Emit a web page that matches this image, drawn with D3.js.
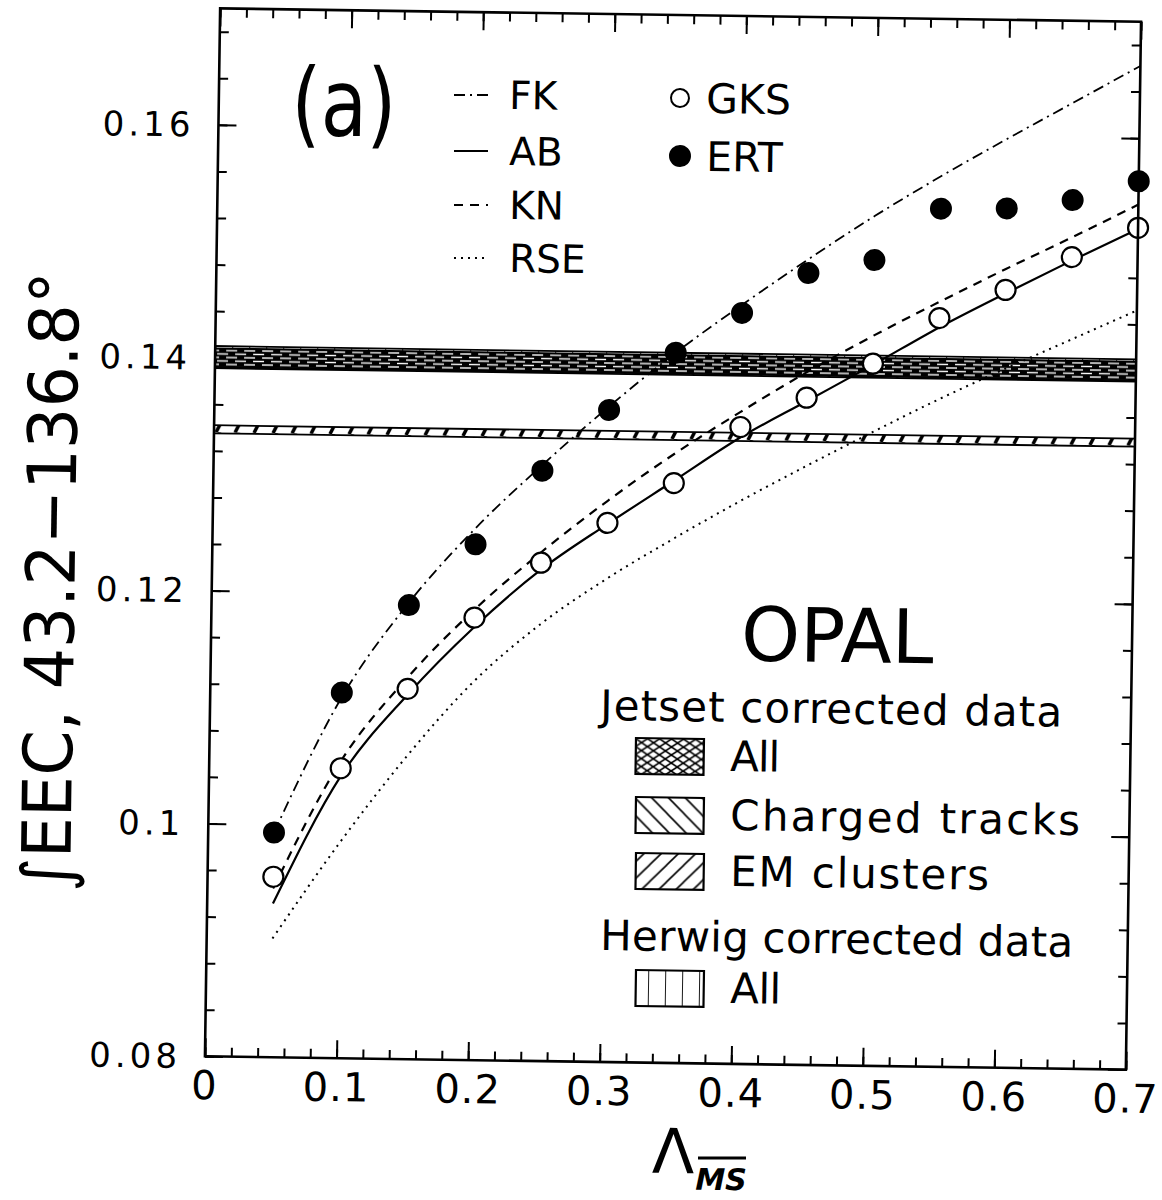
<!DOCTYPE html>
<html>
<head>
<meta charset="utf-8">
<script src="https://cdn.jsdelivr.net/npm/d3@7"></script>
<style>
  body { margin: 0; background: #fff; }
  text { font-family: "DejaVu Sans", sans-serif; fill: #000; }
</style>
</head>
<body>
<svg id="chart" width="1162" height="1200"></svg>
<script>
// Lambda values of the GKS / ERT points
var lambdaPts = [0.05, 0.10, 0.15, 0.20, 0.25, 0.30, 0.35, 0.40, 0.45, 0.50, 0.55, 0.60, 0.65, 0.70];
var ertVals = [0.0993, 0.1114, 0.1190, 0.1243, 0.1307, 0.1360, 0.1410, 0.1445, 0.1480, 0.1492, 0.1537, 0.1538, 0.1546, 0.1563];
var gksVals = [0.0955, 0.1049, 0.1118, 0.1180, 0.1228, 0.1263, 0.1298, 0.1347, 0.1373, 0.1403, 0.1443, 0.1468, 0.1497, 0.1523];

// theory curves, sampled at the same lambda values
var curveNames = ["FK", "AB", "KN", "RSE"];
var fkVals  = [0.0993, 0.1110, 0.1192, 0.1257, 0.1312, 0.1363, 0.1410, 0.1452, 0.1492, 0.1530, 0.1565, 0.1598, 0.1630, 0.1662];
var abVals  = [0.0932, 0.1042, 0.1113, 0.1172, 0.1222, 0.1262, 0.1300, 0.1338, 0.1370, 0.1402, 0.1435, 0.1465, 0.1494, 0.1522];
var knVals  = [0.0945, 0.1055, 0.1128, 0.1187, 0.1237, 0.1282, 0.1323, 0.1360, 0.1395, 0.1427, 0.1457, 0.1486, 0.1514, 0.1543];
var rseVals = [0.0902, 0.0985, 0.1060, 0.1125, 0.1175, 0.1215, 0.1250, 0.1283, 0.1314, 0.1344, 0.1373, 0.1400, 0.1426, 0.1452];

// corrected data bands (low / high edge)
var bandNames = ["Jetset All", "Charged tracks", "EM clusters", "Herwig All"];
var bandLow  = [0.1392, 0.1391, 0.1335, 0.1394];
var bandHigh = [0.1408, 0.1406, 0.1342, 0.1410];

var xTickVals = [0, 0.1, 0.2, 0.3, 0.4, 0.5, 0.6, 0.7];
var xTickLabels = ["0", "0.1", "0.2", "0.3", "0.4", "0.5", "0.6", "0.7"];
var yTickVals = [0.08, 0.10, 0.12, 0.14, 0.16];
var yTickLabels = ["0.08", "0.1", "0.12", "0.14", "0.16"];

var margin = { left: 212.5, top: 15 };
var pw = 921, ph = 1048;
var tilt = 0.83;          // the scanned page is turned a little
var cx = 673, cy = 539;

var svg = d3.select("#chart");
var defs = svg.append("defs");

function pattern(id, w, h, segs, sw, bg) {
  var p = defs.append("pattern")
    .attr("id", id)
    .attr("patternUnits", "userSpaceOnUse")
    .attr("width", w)
    .attr("height", h);
  p.append("rect").attr("width", w).attr("height", h).attr("fill", bg || "#fff");
  segs.forEach(function(s) {
    p.append("line")
      .attr("x1", s[0]).attr("y1", s[1]).attr("x2", s[2]).attr("y2", s[3])
      .attr("stroke", bg ? "#fff" : "#000").attr("stroke-width", sw);
  });
}
pattern("mesh", 12, 8, [[0, 0, 12, 8], [0, 8, 12, 0]], 1.6);
pattern("back", 17, 17, [[-1, -1, 18, 18], [-9, 8, 9, 26], [8, -9, 26, 9]], 1.6);
pattern("fwd", 17, 17, [[-1, 18, 18, -1], [-9, 9, 9, -9], [8, 26, 26, 8]], 1.6);
pattern("vert", 17, 10, [[0, 0, 0, 10]], 1.8);
pattern("emband", 19, 8, [[2, 8, 6, 0], [21, 8, 25, 0], [-17, 8, -13, 0]], 3.5);
// dark band with white streaks, as the overlapping hatchings look in the scan
pattern("topband", 18, 7, [[2, 2.5, 13, 2.5], [-7, 6, 4, 6], [11, 6, 22, 6]], 1.4, "#000");

var root = svg.append("g").attr("transform", "rotate(" + tilt + "," + cx + "," + cy + ")");
var g = root.append("g").attr("transform", "translate(" + margin.left + "," + margin.top + ")");

// image position -> position inside g (undo the page turn)
var th = tilt * Math.PI / 180;
function ip(px, py) {
  var dx = px - cx, dy = py - cy;
  var ux = dx * Math.cos(th) + dy * Math.sin(th);
  var uy = -dx * Math.sin(th) + dy * Math.cos(th);
  return [cx + ux - margin.left, cy + uy - margin.top];
}

var x = d3.scaleLinear().domain([0, 0.7]).range([0, pw]);
var y = d3.scaleLinear().domain([0.08, 0.17]).range([ph, 0]);

// ticks on all four sides, pointing inward
var xMinor = d3.range(0, 0.7001, 0.02);
var yMinor = d3.range(0.08, 0.1701, 0.004);
function ticks(axis, vals, size, tr) {
  var a = g.append("g").attr("transform", tr)
    .call(axis.tickValues(vals).tickSize(size).tickFormat(""));
  a.select(".domain").remove();
  a.selectAll("line").attr("stroke", "#000").attr("stroke-width", 2);
}
ticks(d3.axisBottom(x), xMinor, -9, "translate(0," + ph + ")");
ticks(d3.axisBottom(x), xTickVals, -18, "translate(0," + ph + ")");
ticks(d3.axisTop(x), xMinor, -9, "translate(0,0)");
ticks(d3.axisTop(x), xTickVals, -18, "translate(0,0)");
ticks(d3.axisLeft(y), yMinor, -9, "translate(0,0)");
ticks(d3.axisLeft(y), yTickVals, -18, "translate(0,0)");
ticks(d3.axisRight(y), yMinor, -9, "translate(" + pw + ",0)");
ticks(d3.axisRight(y), yTickVals, -18, "translate(" + pw + ",0)");

// tick labels
g.selectAll(".xl").data(xTickVals).enter().append("text")
  .attr("x", function(d) { return x(d); })
  .attr("y", ph + 43)
  .attr("text-anchor", "middle")
  .style("font-size", "40px")
  .style("letter-spacing", "1px")
  .text(function(d, i) { return xTickLabels[i]; });

g.selectAll(".yl").data(yTickVals).enter().append("text")
  .attr("x", -24)
  .attr("y", function(d) { return y(d) + 12; })
  .attr("text-anchor", "end")
  .style("font-size", "34px")
  .style("letter-spacing", "4px")
  .text(function(d, i) { return yTickLabels[i]; });

// bands
var bandFill = ["topband", "back", "emband", "vert"];
var bandOrder = [1, 3, 0, 2];
bandOrder.forEach(function(i) {
  g.append("rect")
    .attr("x", x(0))
    .attr("width", x(0.7) - x(0))
    .attr("y", y(bandHigh[i]))
    .attr("height", y(bandLow[i]) - y(bandHigh[i]))
    .attr("fill", "url(#" + bandFill[i] + ")")
    .attr("stroke", "#000")
    .attr("stroke-width", 1.8);
});

// curves
var curveVals = [fkVals, abVals, knVals, rseVals];
var curveDash = ["11,5,2,5", null, "9,7", "2,5"];
var curveWidth = [1.8, 2.2, 2.2, 2];
var line = d3.line()
  .x(function(d) { return x(d[0]); })
  .y(function(d) { return y(d[1]); })
  .curve(d3.curveMonotoneX);
curveVals.forEach(function(vals, i) {
  g.append("path")
    .datum(lambdaPts.map(function(l, j) { return [l, vals[j]]; }))
    .attr("d", line)
    .attr("fill", "none")
    .attr("stroke", "#000")
    .attr("stroke-width", curveWidth[i])
    .attr("stroke-dasharray", curveDash[i]);
});

// points
g.selectAll(".gks").data(lambdaPts).enter().append("circle")
  .attr("cx", function(d) { return x(d); })
  .attr("cy", function(d, i) { return y(gksVals[i]); })
  .attr("r", 10)
  .attr("fill", "#fff")
  .attr("stroke", "#000")
  .attr("stroke-width", 2.2);
g.selectAll(".ert").data(lambdaPts).enter().append("circle")
  .attr("cx", function(d) { return x(d); })
  .attr("cy", function(d, i) { return y(ertVals[i]); })
  .attr("r", 11)
  .attr("fill", "#000");

// frame
g.append("rect")
  .attr("width", pw).attr("height", ph)
  .attr("fill", "none").attr("stroke", "#000").attr("stroke-width", 2.6);

// axis titles
var yt = ip(70, 892);
g.append("text")
  .attr("transform", "translate(" + yt[0] + "," + yt[1] + ") rotate(-90)")
  .attr("textLength", 620)
  .attr("lengthAdjust", "spacingAndGlyphs")
  .style("font-size", "68px")
  .text("\u222BEEC, 43.2\u2212136.8\u00B0");

var lt = ip(673, 1173);
g.append("text")
  .attr("x", lt[0]).attr("y", lt[1])
  .attr("text-anchor", "middle")
  .style("font-size", "62px")
  .text("\u039B");
var ms = ip(721, 1190);
g.append("text")
  .attr("x", ms[0]).attr("y", ms[1])
  .attr("text-anchor", "middle")
  .style("font-size", "30px")
  .style("font-weight", "bold")
  .style("font-style", "italic")
  .text("MS");
var ol1 = ip(698, 1158), ol2 = ip(746, 1158);
g.append("line")
  .attr("x1", ol1[0]).attr("y1", ol1[1]).attr("x2", ol2[0]).attr("y2", ol2[1])
  .attr("stroke", "#000").attr("stroke-width", 3);

// panel label
var pa = ip(291, 135);
g.append("text").attr("x", pa[0]).attr("y", pa[1])
  .attr("textLength", 105).attr("lengthAdjust", "spacingAndGlyphs")
  .style("font-size", "94px").text("(a)");

// top legend: curves
var legY = [95, 151, 205, 258];
curveNames.forEach(function(name, i) {
  var a = ip(454, legY[i]), b = ip(488, legY[i]), t = ip(509, legY[i] + 14);
  g.append("line")
    .attr("x1", a[0]).attr("y1", a[1]).attr("x2", b[0]).attr("y2", b[1])
    .attr("stroke", "#000").attr("stroke-width", curveWidth[i])
    .attr("stroke-dasharray", curveDash[i]);
  g.append("text").attr("x", t[0]).attr("y", t[1]).style("font-size", "39px").text(name);
});

// top legend: points
var pointNames = ["GKS", "ERT"];
var pointY = [98, 156];
pointNames.forEach(function(name, i) {
  var m = ip(680, pointY[i]), t = ip(706, pointY[i] + 15);
  g.append("circle")
    .attr("cx", m[0]).attr("cy", m[1])
    .attr("r", i == 0 ? 9 : 10)
    .attr("fill", i == 0 ? "#fff" : "#000")
    .attr("stroke", "#000").attr("stroke-width", 2);
  g.append("text").attr("x", t[0]).attr("y", t[1]).style("font-size", "41px").text(name);
});

// bottom-right legend
var op = ip(837, 662);
g.append("text").attr("x", op[0]).attr("y", op[1])
  .attr("text-anchor", "middle").style("font-size", "75px").text("OPAL");

var headTexts = ["Jetset corrected data", "Herwig corrected data"];
var headLen = [462, 473];
var headY = [705, 935];
headTexts.forEach(function(s, i) {
  var t = ip(600, headY[i] + 15);
  g.append("text").attr("x", t[0]).attr("y", t[1])
    .attr("textLength", headLen[i]).attr("lengthAdjust", "spacing")
    .style("font-size", "42px").text(s);
});

var boxLabels = ["All", "Charged tracks", "EM clusters", "All"];
var boxLen = [50, 350, 259, 51];
var boxY = [756, 815, 871, 988];
var boxFill = ["mesh", "back", "fwd", "vert"];
boxLabels.forEach(function(s, i) {
  var b = ip(636, boxY[i] - 18), t = ip(730, boxY[i] + 15);
  g.append("rect")
    .attr("x", b[0]).attr("y", b[1]).attr("width", 68).attr("height", 36)
    .attr("fill", "url(#" + boxFill[i] + ")")
    .attr("stroke", "#000").attr("stroke-width", 2.2);
  g.append("text").attr("x", t[0]).attr("y", t[1])
    .attr("textLength", boxLen[i]).attr("lengthAdjust", "spacing")
    .style("font-size", "42px").text(s);
});
</script>
</body>
</html>
